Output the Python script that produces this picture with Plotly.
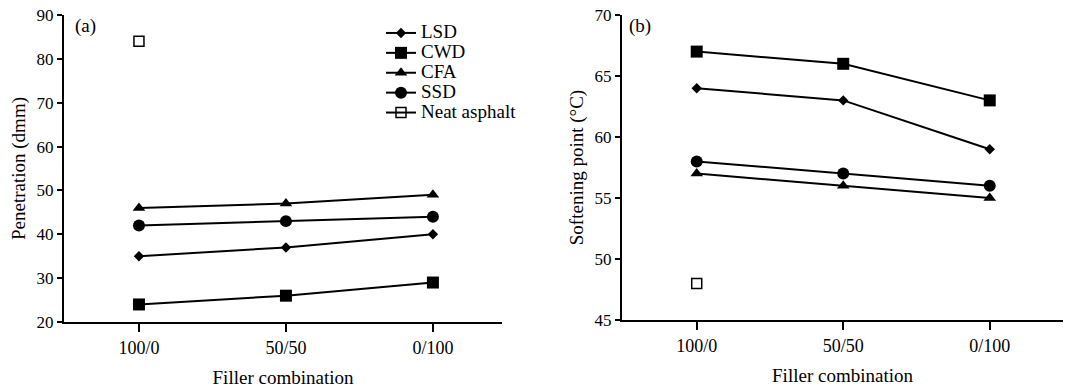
import plotly.graph_objects as go

categories = ["100/0", "50/50", "0/100"]

# Penetration (dmm)
pen_lsd = [35, 37, 40]
pen_cwd = [24, 26, 29]
pen_cfa = [46, 47, 49]
pen_ssd = [42, 43, 44]
pen_neat = [84]

# Softening point (°C)
sp_lsd = [64, 63, 59]
sp_cwd = [67, 66, 63]
sp_cfa = [57, 56, 55]
sp_ssd = [58, 57, 56]
sp_neat = [48]

series_names = ["LSD", "CWD", "CFA", "SSD", "Neat asphalt"]
symbols = ["diamond", "square", "triangle-up", "circle", "square-open"]
sizes = [8, 12, 11, 12, 10]

FONT = "Liberation Serif, Times New Roman, serif"

fig = go.Figure()

left = [pen_lsd, pen_cwd, pen_cfa, pen_ssd]
right = [sp_lsd, sp_cwd, sp_cfa, sp_ssd]

def legend_label(name):
    return '<span style="font-size:19px">' + name + '</span>'

for i in range(4):
    fig.add_trace(go.Scatter(
        x=categories, y=left[i], name=legend_label(series_names[i]), mode="lines+markers",
        line=dict(color="black", width=2),
        marker=dict(symbol=symbols[i], size=sizes[i], color="black"),
        xaxis="x", yaxis="y", showlegend=True))
fig.add_trace(go.Scatter(
    x=categories[:1], y=pen_neat, name=legend_label(series_names[4]), mode="lines+markers",
    line=dict(color="black", width=2),
    marker=dict(symbol=symbols[4], size=sizes[4], color="black",
                line=dict(color="black", width=1.5)),
    xaxis="x", yaxis="y", showlegend=True))

for i in range(4):
    fig.add_trace(go.Scatter(
        x=categories, y=right[i], name=series_names[i], mode="lines+markers",
        line=dict(color="black", width=2),
        marker=dict(symbol=symbols[i], size=sizes[i], color="black"),
        xaxis="x2", yaxis="y2", showlegend=False))
fig.add_trace(go.Scatter(
    x=categories[:1], y=sp_neat, name=series_names[4], mode="markers",
    marker=dict(symbol=symbols[4], size=sizes[4], color="black",
                line=dict(color="black", width=1.5)),
    xaxis="x2", yaxis="y2", showlegend=False))

W, H = 1065, 388
def px(x):
    return x / W
def py(y):
    return 1 - y / H

axis_common = dict(
    showgrid=False, zeroline=False, showline=True, linecolor="black", linewidth=2,
    ticks="outside", tickwidth=2, tickcolor="black", automargin=False,
    ticklabeloverflow="allow",
    title_font=dict(family=FONT, size=19, color="black"),
)
xfont = dict(family=FONT, size=18, color="black")
yfont = dict(family=FONT, size=17, color="black")

fig.update_layout(
    width=W, height=H,
    margin=dict(l=0, r=0, t=0, b=0, pad=0),
    paper_bgcolor="white", plot_bgcolor="white",
    font=dict(family=FONT, size=16, color="black"),
    xaxis=dict(domain=[px(64), px(502)], anchor="y", type="category",
               range=[-0.51, 2.47], ticklen=8, tickfont=xfont,
               title=dict(text="Filler combination", standoff=14),
               **axis_common),
    yaxis=dict(domain=[py(322), py(15)], anchor="x", range=[20, 90], dtick=10,
               ticklen=5, tickfont=yfont,
               title=dict(text="Penetration (dmm)", standoff=6), **axis_common),
    xaxis2=dict(domain=[px(622), px(1063)], anchor="y2", type="category",
                range=[-0.51, 2.5], ticklen=8, tickfont=xfont,
                title=dict(text="Filler combination", standoff=14),
                **axis_common),
    yaxis2=dict(domain=[py(320), py(15)], anchor="x2", range=[45, 70], dtick=5,
                ticklen=5, tickfont=yfont,
                title=dict(text="Softening point (°C)", standoff=6), **axis_common),
    legend=dict(x=px(381), y=py(18), xanchor="left", yanchor="top",
                bgcolor="rgba(0,0,0,0)", font=dict(family=FONT, size=13, color="black"),
                itemwidth=30, tracegroupgap=0),
    annotations=[
        dict(text="(a)", x=px(73), y=py(26), xref="paper", yref="paper",
             xanchor="left", yanchor="middle", showarrow=False,
             font=dict(family=FONT, size=19, color="black")),
        dict(text="(b)", x=px(627), y=py(26), xref="paper", yref="paper",
             xanchor="left", yanchor="middle", showarrow=False,
             font=dict(family=FONT, size=19, color="black")),
    ],
)

fig.write_html("out.html", config={"displayModeBar": False},
               post_script="document.body.style.margin='0px';")
